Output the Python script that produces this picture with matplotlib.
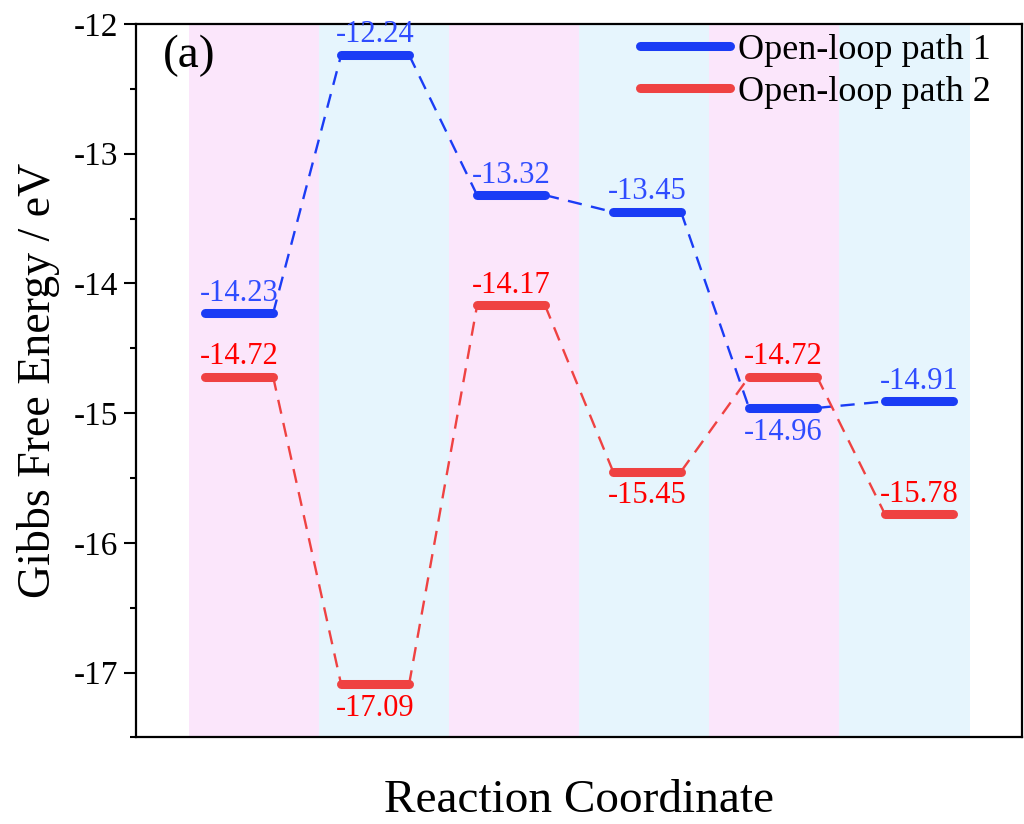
import numpy as np
import matplotlib
matplotlib.use('Agg')
import matplotlib.pyplot as plt
from matplotlib.ticker import MultipleLocator
from matplotlib.lines import Line2D

plt.rcParams['font.family'] = ['Liberation Serif', 'DejaVu Serif']
plt.rcParams['axes.unicode_minus'] = False

steps = np.arange(6)
path1 = [-14.23, -12.24, -13.32, -13.45, -14.96, -14.91]
path2 = [-14.72, -17.09, -14.17, -15.45, -14.72, -15.78]
# label side: 1 above the level, -1 below
side1 = [1, 1, 1, 1, -1, 1]
side2 = [1, -1, 1, -1, 1, 1]
labels = ['Open-loop path 1', 'Open-loop path 2']

bar_col = ['#1a3cf5', '#ef4242']
txt_col = ['#2f4cff', '#ff0000']
band_col = ['#fbe6fb', '#e6f5fd']

half = 0.25
band_w = 0.957
band_x0 = -0.37

fig = plt.figure(figsize=(10.24, 8.24), dpi=100)
ax = fig.add_axes([0.133, 0.105, 0.865, 0.866])

for i in steps:
    ax.axvspan(band_x0 + i * band_w, band_x0 + (i + 1) * band_w,
               color=band_col[i % 2], lw=0, zorder=0)

for k, (vals, sides) in enumerate([(path1, side1), (path2, side2)]):
    for i in steps:
        ax.plot([i - half, i + half], [vals[i], vals[i]], color=bar_col[k],
                lw=6.5, solid_capstyle='round', zorder=3)
        off = 4 if sides[i] > 0 else -7
        ax.annotate(f'{vals[i]:.2f}', (i, vals[i]), xytext=(0, off),
                    textcoords='offset points', ha='center',
                    va='bottom' if sides[i] > 0 else 'top',
                    color=txt_col[k], fontsize=22, zorder=4)
    for i in steps[:-1]:
        ax.plot([i + half, i + 1 - half], [vals[i], vals[i + 1]],
                color=bar_col[k], lw=1.7, dashes=(6, 4), zorder=2)

ax.set_xlim(-0.757, 5.757)
ax.set_ylim(-17.5, -12)
ax.set_xticks([])
ax.yaxis.set_major_locator(MultipleLocator(1))
ax.yaxis.set_minor_locator(MultipleLocator(0.5))
ax.tick_params(axis='y', which='major', direction='out', length=9, width=1.5,
               labelsize=24, pad=4)
ax.tick_params(axis='y', which='minor', direction='out', length=4.5, width=1.5)
for s in ax.spines.values():
    s.set_linewidth(1.6)

ax.set_ylabel('Gibbs Free Energy / eV', fontsize=33, labelpad=10)
ax.set_xlabel('Reaction Coordinate', fontsize=34, labelpad=30)
ax.text(0.03, 0.985, '(a)', transform=ax.transAxes, fontsize=34,
        ha='left', va='top', zorder=5)

handles = [Line2D([], [], color=c, lw=6.5, solid_capstyle='round') for c in bar_col]
ax.legend(handles, labels, loc='upper right', bbox_to_anchor=(0.993, 1.022),
          frameon=False, fontsize=26, handlelength=2.5, handletextpad=0.2,
          labelspacing=0.25, borderpad=0.2)

fig.savefig('out.png', dpi=100)
